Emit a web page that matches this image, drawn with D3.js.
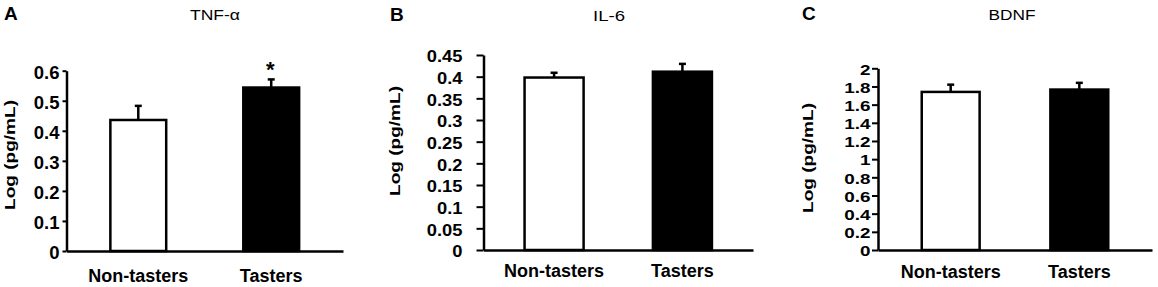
<!DOCTYPE html>
<html>
<head>
<meta charset="utf-8">
<script src="https://cdn.jsdelivr.net/npm/d3@7"></script>
<style>
  body { margin: 0; background: #fff; }
  svg { display: block; font-family: "Liberation Sans", Arial, sans-serif; }
</style>
</head>
<body>
<svg width="1158" height="287"></svg>
<script>
const groups = ['Non-tasters', 'Tasters'];
const panelLetters = ['A', 'B', 'C'];
const panelTitles = ['TNF-α', 'IL-6', 'BDNF'];
const yTitle = 'Log (pg/mL)';

const tnfMean = [0.436, 0.544];
const tnfErr = [0.047, 0.027];
const il6Mean = [0.398, 0.4115];
const il6Err = [0.011, 0.018];
const bdnfMean = [1.74, 1.766];
const bdnfErr = [0.08, 0.074];

const tnfTicks = [0, 0.1, 0.2, 0.3, 0.4, 0.5, 0.6];
const il6Ticks = [0, 0.05, 0.1, 0.15, 0.2, 0.25, 0.3, 0.35, 0.4, 0.45];
const bdnfTicks = [0, 0.2, 0.4, 0.6, 0.8, 1, 1.2, 1.4, 1.6, 1.8, 2];

const fills = ['#fff', '#000'];
const signif = ['', '*'];

const panels = [
    { means: tnfMean, errs: tnfErr, ticks: tnfTicks, marks: signif,
      x0: 66.5, x1: 343, y0: 251, yTop: 70.7, pi: 0.58, po: 0.33,
      tickSize: 4, tickPad: 3, xPad: 18, tickFont: 18.5, tickSx: 1,
      letterX: 4, letterY: 20, titleX: 215, titleW: 50, yTitleX: 10, yTitleY: 155 },
    { means: il6Mean, errs: il6Err, ticks: il6Ticks, marks: ['', ''],
      x0: 483.5, x1: 753, y0: 250, yTop: 55, pi: 0.54, po: 0.32,
      tickSize: 7, tickPad: 14, xPad: 14, tickFont: 17, tickSx: 1.08,
      letterX: 390, letterY: 21, titleX: 609, titleW: 32, yTitleX: 395, yTitleY: 141 },
    { means: bdnfMean, errs: bdnfErr, ticks: bdnfTicks, marks: ['', ''],
      x0: 878, x1: 1152, y0: 250, yTop: 68.3, pi: 0.55, po: 0.34,
      tickSize: 6, tickPad: 1.5, xPad: 15, tickFont: 14.5, tickSx: 1.3,
      letterX: 802, letterY: 20, titleX: 1012, titleW: 47, yTitleX: 808, yTitleY: 158 }
];

const svg = d3.select('svg');
const fmt = d => d === 0 ? '0' : String(+d.toFixed(2));

panels.forEach((p, k) => {
    const g = svg.append('g');

    const x = d3.scaleBand()
        .domain(groups)
        .range([p.x0, p.x1])
        .paddingInner(p.pi)
        .paddingOuter(p.po);

    const y = d3.scaleLinear()
        .domain([0, d3.max(p.ticks)])
        .range([p.y0, p.yTop]);

    // bars
    g.selectAll('rect.bar')
        .data(groups)
        .enter()
        .append('rect')
        .attr('class', 'bar')
        .attr('x', d => x(d))
        .attr('y', (d, i) => y(p.means[i]))
        .attr('width', x.bandwidth())
        .attr('height', (d, i) => p.y0 - y(p.means[i]))
        .attr('fill', (d, i) => fills[i])
        .attr('stroke', '#000')
        .attr('stroke-width', 2.5);

    // error bars (upper only)
    const eb = g.selectAll('g.err')
        .data(groups)
        .enter()
        .append('g')
        .attr('class', 'err')
        .attr('stroke', '#000')
        .attr('stroke-width', 2.5);
    eb.append('line')
        .attr('x1', d => x(d) + x.bandwidth() / 2)
        .attr('x2', d => x(d) + x.bandwidth() / 2)
        .attr('y1', (d, i) => y(p.means[i]))
        .attr('y2', (d, i) => y(p.means[i] + p.errs[i]));
    eb.append('line')
        .attr('x1', d => x(d) + x.bandwidth() / 2 - 3.5)
        .attr('x2', d => x(d) + x.bandwidth() / 2 + 3.5)
        .attr('y1', (d, i) => y(p.means[i] + p.errs[i]))
        .attr('y2', (d, i) => y(p.means[i] + p.errs[i]));

    // significance marks
    g.selectAll('text.sig')
        .data(groups)
        .enter()
        .append('text')
        .attr('class', 'sig')
        .attr('x', d => x(d) + x.bandwidth() / 2 - 1)
        .attr('y', (d, i) => y(p.means[i] + p.errs[i]) - 2)
        .attr('text-anchor', 'middle')
        .attr('font-size', '22px')
        .attr('font-weight', 'bold')
        .text((d, i) => p.marks[i]);

    // y axis
    const ya = g.append('g')
        .attr('transform', `translate(${p.x0},0)`)
        .call(d3.axisLeft(y)
            .tickValues(p.ticks)
            .tickFormat(fmt)
            .tickSize(p.tickSize)
            .tickSizeOuter(0)
            .tickPadding(p.tickPad));
    ya.select('.domain').attr('stroke-width', 2.5);
    ya.selectAll('.tick line').attr('stroke-width', 2);
    // labels are drawn a little wide, as in the source figure
    ya.selectAll('.tick text')
        .attr('x', -(p.tickSize + p.tickPad) / p.tickSx)
        .attr('transform', `scale(${p.tickSx},1)`)
        .attr('font-size', p.tickFont + 'px')
        .attr('font-weight', 'bold')
        .attr('font-family', '"Liberation Sans", Arial, sans-serif')
        .attr('fill', '#000')
        .attr('dy', '0.4em');

    // x axis
    const xa = g.append('g')
        .attr('transform', `translate(0,${p.y0})`)
        .call(d3.axisBottom(x).tickSize(0).tickSizeOuter(0).tickPadding(p.xPad));
    xa.select('.domain').attr('stroke-width', 2.5);
    xa.selectAll('.tick text')
        .attr('font-size', '18px')
        .attr('font-weight', 'bold')
        .attr('font-family', '"Liberation Sans", Arial, sans-serif')
        .attr('fill', '#000');

    // panel letter
    svg.append('text')
        .attr('x', p.letterX)
        .attr('y', p.letterY)
        .attr('font-size', '19px')
        .attr('font-weight', 'bold')
        .text(panelLetters[k]);

    // panel title
    svg.append('text')
        .attr('x', p.titleX)
        .attr('y', p.letterY)
        .attr('text-anchor', 'middle')
        .attr('font-size', '15px')
        .attr('textLength', p.titleW)
        .attr('lengthAdjust', 'spacingAndGlyphs')
        .text(panelTitles[k]);

    // y title
    svg.append('text')
        .attr('transform', `translate(${p.yTitleX + 5},${p.yTitleY}) rotate(-90)`)
        .attr('text-anchor', 'middle')
        .attr('font-size', '14px')
        .attr('font-weight', 'bold')
        .attr('textLength', 110)
        .attr('lengthAdjust', 'spacingAndGlyphs')
        .text(yTitle);
});
</script>
</body>
</html>
